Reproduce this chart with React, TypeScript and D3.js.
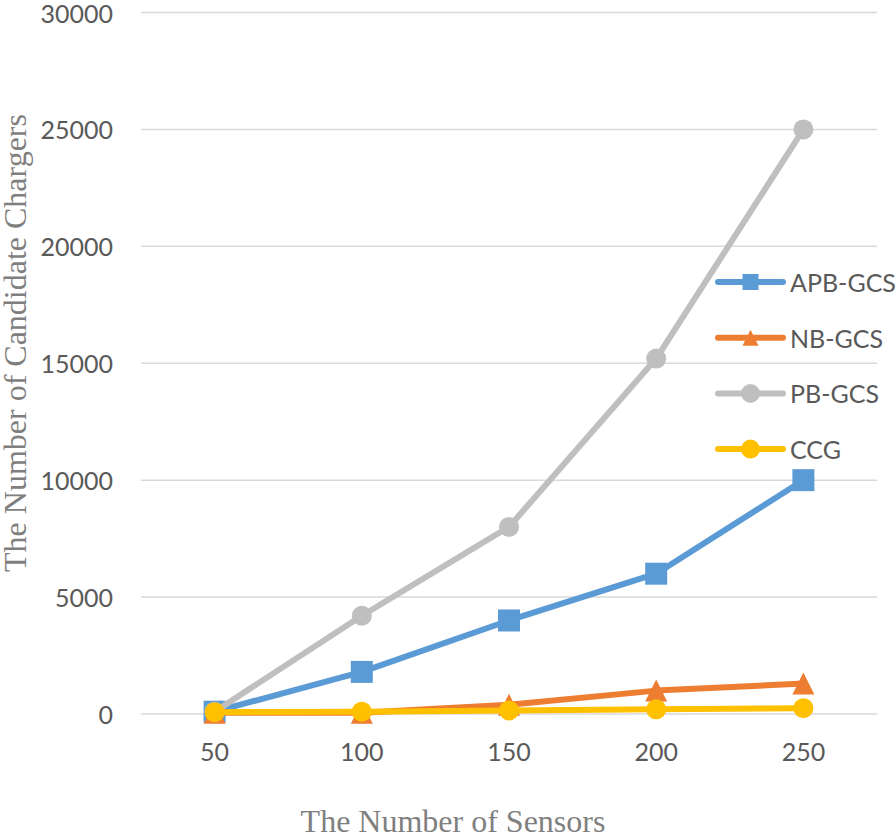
import React, { useEffect, useRef } from 'react';
import * as d3 from 'd3';

const SENSORS = ['50', '100', '150', '200', '250'];
const APB_GCS = [100, 1800, 4000, 6000, 10000];
const NB_GCS = [50, 50, 400, 1000, 1300];
const PB_GCS = [100, 4200, 8000, 15200, 25000];
const CCG = [80, 100, 150, 200, 250];
const Y_TICKS = [0, 5000, 10000, 15000, 20000, 25000, 30000];

const SERIES = [
  { name: 'APB-GCS', values: APB_GCS, color: '#5B9BD5', marker: 'square' },
  { name: 'NB-GCS', values: NB_GCS, color: '#ED7D31', marker: 'triangle' },
  { name: 'PB-GCS', values: PB_GCS, color: '#BFBFBF', marker: 'circle' },
  { name: 'CCG', values: CCG, color: '#FFC000', marker: 'circle' },
];

const W = 896;
const H = 836;
const PLOT = { left: 141, right: 877, top: 12.5, bottom: 714 };
const TEXT_COLOR = '#595959';
const TICK_FONT = 'Lato, "Open Sans", sans-serif';
const TITLE_FONT = '"Liberation Serif", "Times New Roman", serif';

function markerPath(type: string, s: number) {
  if (type === 'square') {
    return `M${-s / 2},${-s / 2}h${s}v${s}h${-s}Z`;
  }
  if (type === 'triangle') {
    return `M0,${-s / 2}L${s / 2},${s / 2}L${-s / 2},${s / 2}Z`;
  }
  return d3.symbol(d3.symbolCircle, Math.PI * (s / 2) * (s / 2))() as string;
}

export default function App() {
  const svgRef = useRef<SVGSVGElement | null>(null);

  useEffect(() => {
    const svg = d3.select(svgRef.current);
    svg.selectAll('*').remove();

    const x = d3.scalePoint<string>()
      .domain(SENSORS)
      .range([PLOT.left, PLOT.right])
      .padding(0.5);
    const y = d3.scaleLinear()
      .domain([0, 30000])
      .range([PLOT.bottom, PLOT.top]);

    // gridlines
    svg.append('g')
      .selectAll('line')
      .data(Y_TICKS)
      .join('line')
      .attr('x1', PLOT.left)
      .attr('x2', PLOT.right)
      .attr('y1', d => y(d))
      .attr('y2', d => y(d))
      .attr('stroke', '#D9D9D9')
      .attr('stroke-width', 1.5);

    // y tick labels
    svg.append('g')
      .selectAll('text')
      .data(Y_TICKS)
      .join('text')
      .attr('x', 113)
      .attr('y', d => y(d))
      .attr('text-anchor', 'end')
      .attr('dominant-baseline', 'central')
      .style('font-family', TICK_FONT)
      .style('font-size', '25px')
      .style('fill', TEXT_COLOR)
      .text(d => d);

    // x tick labels
    svg.append('g')
      .selectAll('text')
      .data(SENSORS)
      .join('text')
      .attr('x', d => x(d) as number)
      .attr('y', 761)
      .attr('text-anchor', 'middle')
      .style('font-family', TICK_FONT)
      .style('font-size', '25px')
      .style('fill', TEXT_COLOR)
      .text(d => d);

    // series
    const line = d3.line<number>()
      .x((_, i) => x(SENSORS[i]) as number)
      .y(d => y(d));

    SERIES.forEach(s => {
      const g = svg.append('g');
      g.append('path')
        .attr('d', line(s.values))
        .attr('fill', 'none')
        .attr('stroke', s.color)
        .attr('stroke-width', 6)
        .attr('stroke-linejoin', 'round');
      const size = s.marker === 'circle' ? 20 : 22;
      g.selectAll('path.m')
        .data(s.values)
        .join('path')
        .attr('class', 'm')
        .attr('transform', (d, i) => `translate(${x(SENSORS[i])},${y(d)})`)
        .attr('d', markerPath(s.marker, size))
        .attr('fill', s.color);
    });

    // legend
    const legend = svg.append('g');
    SERIES.forEach((s, i) => {
      const ly = 282 + i * 55.7;
      legend.append('line')
        .attr('x1', 718)
        .attr('x2', 783)
        .attr('y1', ly)
        .attr('y2', ly)
        .attr('stroke', s.color)
        .attr('stroke-width', 6)
        .attr('stroke-linecap', 'round');
      const size = s.marker === 'circle' ? 19 : 16;
      legend.append('path')
        .attr('transform', `translate(750.5,${ly})`)
        .attr('d', markerPath(s.marker, size))
        .attr('fill', s.color);
      legend.append('text')
        .attr('x', 790)
        .attr('y', ly)
        .attr('dominant-baseline', 'central')
        .style('font-family', TICK_FONT)
        .style('font-size', '25px')
        .style('fill', TEXT_COLOR)
        .text(s.name);
    });

    // axis titles
    svg.append('text')
      .attr('x', 453)
      .attr('y', 832)
      .attr('text-anchor', 'middle')
      .style('font-family', TITLE_FONT)
      .style('font-size', '32px')
      .style('fill', '#7F7F7F')
      .text('The Number of Sensors');

    svg.append('text')
      .attr('transform', 'translate(26,343) rotate(-90)')
      .attr('text-anchor', 'middle')
      .style('font-family', TITLE_FONT)
      .style('font-size', '32px')
      .style('fill', '#7F7F7F')
      .text('The Number of Candidate Chargers');
  }, []);

  return (
    <svg
      ref={svgRef}
      width={W}
      height={H}
      style={{ position: 'absolute', left: 0, top: 0, background: '#fff' }}
    />
  );
}
